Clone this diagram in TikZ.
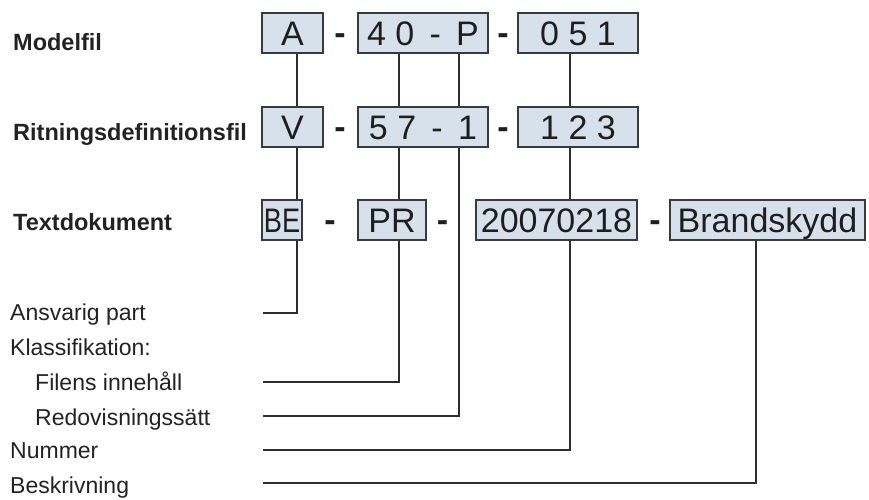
\documentclass[tikz,border=0pt]{standalone}
\usepackage{fontspec}
\setmainfont{Liberation Sans}
\usepackage{graphicx}
\definecolor{boxfill}{HTML}{D7E1EB}
\definecolor{boxline}{HTML}{3A3A3A}
\definecolor{segtext}{HTML}{1E1E1E}
\definecolor{lbltext}{HTML}{222222}
\definecolor{linecol}{HTML}{2E2E2E}
\newcommand{\segfont}{\fontsize{34}{40}\selectfont}
\newcommand{\dsp}{\hspace{0.45em}}
\tikzset{
  seg/.style={draw=boxline, fill=boxfill, line width=1.6pt, inner sep=0pt,
    minimum height=40pt, text height=25pt, text depth=0pt, font=\segfont, text=segtext},
  sep/.style={inner sep=0pt, text height=25pt, text depth=0pt, font=\segfont\bfseries, text=segtext, yshift=1.5pt},
  conn/.style={draw=linecol, line width=1.8pt},
  hlbl/.style={anchor=base west, inner sep=0pt, font=\fontsize{23.5}{27}\selectfont\bfseries, text=lbltext},
  lbl/.style={anchor=base west, inner sep=0pt, font=\fontsize{23}{27}\selectfont, text=lbltext},
}
\begin{document}
\begin{tikzpicture}[x=1pt,y=-1pt]
\useasboundingbox (0,0) rectangle (869,499);

% header labels
\node[hlbl] (lModel) at (13,50) {Modelfil};
\node[hlbl] (lRit) at (13,140) {Ritningsdefinitionsfil};
\node[hlbl] (lText) at (13,230) {Textdokument};

% row 1
\node[seg, minimum width=61pt] (A) at (292.5,33) {A};
\node[sep] (d11) at (340,33) {-};
\node[seg, minimum width=130pt] (s40P) at (423,33) {4 0\dsp-\dsp P};
\node[sep] (d12) at (503,33) {-};
\node[seg, minimum width=120pt] (s051) at (578,33) {0 5 1};

% row 2
\node[seg, minimum width=61pt] (V) at (292.5,127) {V};
\node[sep] (d21) at (340,127) {-};
\node[seg, minimum width=130pt] (s571) at (423,127) {5 7\dsp-\dsp 1};
\node[sep] (d22) at (503,127) {-};
\node[seg, minimum width=120pt] (s123) at (578,127) {1 2 3};

% row 3
\node[seg, minimum width=40pt] (BE) at (282,220) {\scalebox{0.8}[1]{BE}};
\node[sep] (d31) at (330,220) {-};
\node[seg, minimum width=68pt] (PR) at (392,220) {PR};
\node[sep] (d32) at (442.5,220) {-};
\node[seg, minimum width=161pt] (num) at (556.5,220) {20070218};
\node[sep] (d33) at (655,220) {-};
\node[seg, minimum width=195pt] (Br) at (767.5,220) {Brandskydd};

% bottom labels
\node[lbl] (lAns) at (10,320) {Ansvarig part};
\node[lbl] (lKla) at (10,355) {Klassifikation:};
\node[lbl] (lFil) at (35,390) {Filens innehåll};
\node[lbl] (lRed) at (35,425) {Redovisningssätt};
\node[lbl] (lNum) at (10,458) {Nummer};
\node[lbl] (lBes) at (10,493) {Beskrivning};

% connector x positions and free ends
\coordinate (xA) at (297,0);
\coordinate (x40) at (399,0);
\coordinate (xP) at (459,0);
\coordinate (x051) at (570,0);
\coordinate (xBr) at (756,0);
\coordinate (eA) at (263,313);
\coordinate (eF) at (263,382);
\coordinate (eR) at (263,416);
\coordinate (eN) at (263,450);
\coordinate (eB) at (263,483);

\draw[conn] (A.south -| xA) -- (V.north -| xA);
\draw[conn] (V.south -| xA) -- (BE.north -| xA);
\draw[conn] (BE.south -| xA) |- (eA);

\draw[conn] (s40P.south -| x40) -- (s571.north -| x40);
\draw[conn] (s571.south -| x40) -- (PR.north -| x40);
\draw[conn] (PR.south -| x40) |- (eF);

\draw[conn] (s40P.south -| xP) -- (s571.north -| xP);
\draw[conn] (s571.south -| xP) |- (eR);

\draw[conn] (s051.south -| x051) -- (s123.north -| x051);
\draw[conn] (s123.south -| x051) -- (num.north -| x051);
\draw[conn] (num.south -| x051) |- (eN);

\draw[conn] (Br.south -| xBr) |- (eB);
\end{tikzpicture}
\end{document}
